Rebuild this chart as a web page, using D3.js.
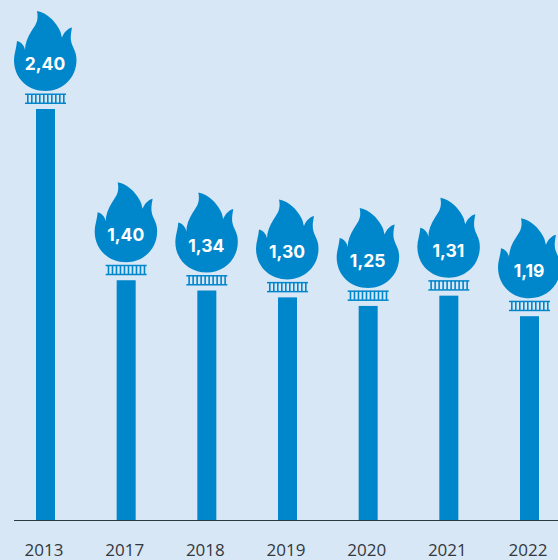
<!DOCTYPE html>
<html>
<head>
<meta charset="utf-8">
<style>
  html, body { margin: 0; padding: 0; background: #d8e7f6; overflow: hidden; }
</style>
</head>
<body>
<div id="graph_div"></div>

<script src="https://d3js.org/d3.v7.min.js"></script>

<script>

const years = ["2013", "2017", "2018", "2019", "2020", "2021", "2022"];
const values = [2.40, 1.40, 1.34, 1.30, 1.25, 1.31, 1.19];
const value_labels = ["2,40", "1,40", "1,34", "1,30", "1,25", "1,31", "1,19"];

const container_width = 558,
      container_height = 560,
      baseline = 520,
      bar_width = 19,
      blue = "#0087cb";

let svg = d3.select("#graph_div")
  .append("svg")
    .attr("width", container_width)
    .attr("height", container_height)
    .style("display", "block")
    .style("background", "#d8e7f6");

let x = d3.scalePoint()
  .domain(years)
  .range([45.5, 529.5]);

let y = d3.scaleLinear()
  .domain([0, 2.40])
  .range([baseline, 109]);

// flame outline, origin is the top centre of the bar
const flame_path = "M -8.5 -98 " +
  "C 2 -96 9 -88 13 -81 C 16 -76 15.5 -74 16.5 -71.5 " +
  "C 18 -76 22 -80.5 26.5 -81.5 C 25.5 -76 24.5 -71 26 -66 " +
  "C 28 -60 31 -57 31 -49 " +
  "C 31 -31 17 -18 0 -18 " +
  "C -18 -18 -31.5 -31 -31.5 -49 " +
  "C -31.5 -55 -29 -61 -28.5 -68 " +
  "C -24 -67 -21 -63 -20.5 -59 " +
  "C -20.5 -65 -18 -72 -14 -78 " +
  "C -10 -84 -6.5 -88 -8.5 -98 Z";

// bars
svg.selectAll(".bar")
  .data(years)
  .enter()
  .append("rect")
    .attr("class", "bar")
    .attr("x", (d) => x(d) - bar_width / 2)
    .attr("y", (d, i) => y(values[i]))
    .attr("width", bar_width)
    .attr("height", (d, i) => baseline - y(values[i]))
    .attr("fill", blue);

let torches = svg.selectAll(".torch")
  .data(years)
  .enter()
  .append("g")
    .attr("class", "torch")
    .attr("transform", (d, i) => "translate(" + x(d) + "," + y(values[i]) + ")");

torches.append("path")
  .attr("d", flame_path)
  .attr("fill", blue);

// the little grate under each flame
torches.append("rect")
  .attr("x", -20.5).attr("y", -15.5)
  .attr("width", 41).attr("height", 1.5)
  .attr("fill", blue);
torches.append("rect")
  .attr("x", -20.5).attr("y", -6.5)
  .attr("width", 41).attr("height", 1.5)
  .attr("fill", blue);
torches.selectAll(".tooth")
  .data(d3.range(10))
  .enter()
  .append("rect")
    .attr("class", "tooth")
    .attr("x", (k) => -18.5 + k * 4)
    .attr("y", -15)
    .attr("width", 1.6)
    .attr("height", 9)
    .attr("fill", blue);

torches.append("text")
  .attr("x", -0.5)
  .attr("y", -39)
  .attr("text-anchor", "middle")
  .attr("font-family", "Inter, 'Open Sans', sans-serif")
  .attr("font-weight", 700)
  .attr("font-size", 17.5)
  .attr("fill", "#ffffff")
  .text((d, i) => value_labels[i]);

// x axis, labels only, the line is drawn below so that it can run to the edge
let x_axis = svg.append("g")
  .attr("transform", "translate(-2," + baseline + ")")
  .call(d3.axisBottom(x).tickSize(0).tickPadding(24));

x_axis.select(".domain").remove();
x_axis.selectAll("text")
  .attr("font-family", "'Open Sans', sans-serif")
  .attr("font-size", 17)
  .attr("fill", "#33383d");

svg.append("line")
  .attr("x1", 14)
  .attr("x2", container_width)
  .attr("y1", baseline + 0.5)
  .attr("y2", baseline + 0.5)
  .attr("stroke", "#2e3a42")
  .attr("stroke-width", 1);

</script>
</body>
</html>
